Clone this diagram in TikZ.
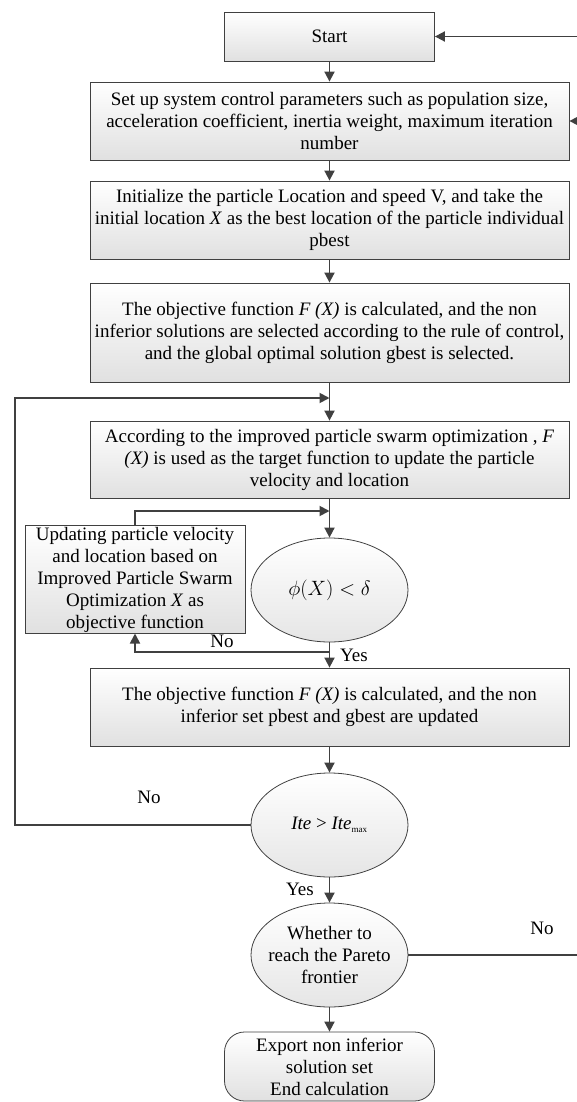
\documentclass[tikz,border=0pt]{standalone}
\usepackage{fontspec}
\setmainfont{Liberation Serif}
\usetikzlibrary{arrows.meta,shapes.geometric}
\begin{document}
\begin{tikzpicture}[x=1pt,y=-1pt,font=\fontsize{19}{22}\selectfont,
	box/.style={draw=black!75,line width=0.8pt,top color=white,bottom color=black!12,align=center,inner sep=2pt},
	cond/.style={ellipse,draw=black!75,line width=0.8pt,top color=white,bottom color=black!10,align=center,inner xsep=-10pt,inner ysep=0pt,minimum width=157pt,minimum height=104pt},
	arr/.style={draw=black!75,line width=1.8pt,-{Triangle[length=10pt,width=10pt]}}]
		\useasboundingbox (0,0) rectangle (576,1102);
		\node[box,minimum width=210pt,minimum height=49pt] (start) at (329.5,36.5) {Start};
		\node[box,minimum width=479pt,minimum height=78pt] (setup) at (329.5,121) {Set up system control parameters such as population size,\\acceleration coefficient, inertia weight, maximum iteration\\number};
		\node[box,minimum width=479pt,minimum height=78pt] (init) at (329.5,220) {Initialize the particle Location and speed V, and take the\\initial location \textit{X} as the best location of the particle individual\\pbest};
		\node[box,minimum width=479pt,minimum height=99pt] (calc) at (329.5,332.5) {The objective function \textit{F (X)} is calculated, and the non\\inferior solutions are selected according to the rule of control,\\and the global optimal solution gbest is selected.};
		\node[box,minimum width=479pt,minimum height=77pt] (update) at (329.5,459.5) {According to the improved particle swarm optimization , \textit{F}\\\textit{(X)} is used as the target function to update the particle\\velocity and location};
		\node[box,minimum width=220pt,minimum height=103pt,inner sep=1pt] (impr) at (135,579.5) {Updating particle velocity\\and location based on\\Improved Particle Swarm\\Optimization \textit{X} as\\objective function};
		\node[cond,font=\fontsize{20}{23}\selectfont] (phi) at (329.5,590) {$\phi(X)<\delta$};
		\node[box,minimum width=479pt,minimum height=78pt] (renew) at (329.5,707) {The objective function \textit{F (X)} is calculated, and the non\\inferior set pbest and gbest are updated};
		\node[cond] (ite) at (329.5,825) {\textit{Ite} > \textit{Ite}\textsubscript{\fontsize{9}{9}\selectfont max}};
		\node[cond] (pareto) at (329.5,955) {Whether to\\reach the Pareto\\frontier};
		\node[box,rounded corners=20pt,minimum width=210pt,minimum height=69pt] (finish) at (329.5,1066.5) {Export non inferior\\solution set\\End calculation};
		\node (nophi) at (222,641) {No};
		\node (yesphi) at (354,655) {Yes};
		\node (noite) at (149,797) {No};
		\node (yesite) at (300,889) {Yes};
		\node (nopareto) at (542,928) {No};
		\coordinate (join1) at (329.5,398);
		\coordinate (join2) at (329.5,511);
		\coordinate (split) at (329.5,652);
		\coordinate (lft) at (15,398);
		\coordinate (rgt) at (586,36.5);
		\draw[arr] (start) -- (setup);
		\draw[arr] (setup) -- (init);
		\draw[arr] (init) -- (calc);
		\draw[arr] (calc) -- (update);
		\draw[arr] (update) -- (phi);
		\draw[arr] (phi) -- (renew);
		\draw[arr] (renew) -- (ite);
		\draw[arr] (ite) -- (pareto);
		\draw[arr] (pareto) -- (finish);
		\draw[arr] (impr.north) |- (join2);
		\draw[arr] (split) -| (impr.south);
		\draw[arr] (ite.west) -| (lft) -- (join1);
		\draw[arr] (pareto.east) -| (rgt) -- (start.east);
		\draw[arr] (setup.east -| rgt) -- (setup.east);
\end{tikzpicture}
\end{document}
